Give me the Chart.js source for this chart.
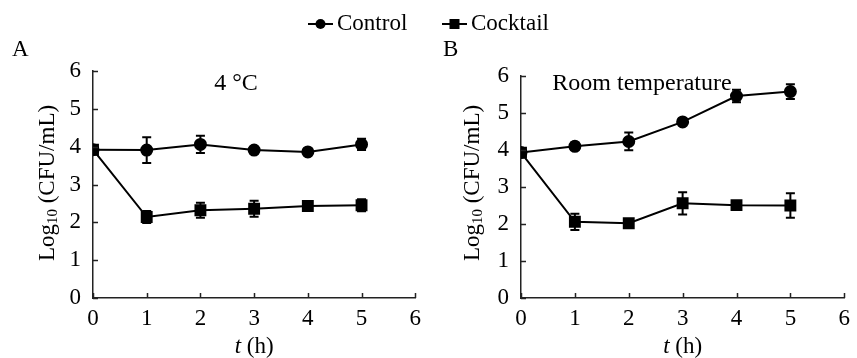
<!DOCTYPE html>
<html>
<head>
<meta charset="utf-8">
<script src="https://cdn.jsdelivr.net/npm/chart.js@4.4.1/dist/chart.umd.min.js"></script>
<style>
body { margin: 0; background: #fff; width: 857px; height: 358px; position: relative; overflow: hidden; }
.box { position: absolute; top: 0; height: 358px; }
</style>
</head>
<body>
<div class="box" style="left:0;width:428px"><canvas id="chartA" width="428" height="358"></canvas></div>
<div class="box" style="left:428px;width:429px"><canvas id="chartB" width="429" height="358"></canvas></div>

<script>
const hours = [0, 1, 2, 3, 4, 5];
const xTicks = [0, 1, 2, 3, 4, 5, 6];
const yTicks = [0, 1, 2, 3, 4, 5, 6];
const seriesNames = ['Control', 'Cocktail'];

// panel A, 4 °C
const coldControl = [3.92, 3.91, 4.06, 3.91, 3.86, 4.06];
const coldControlErr = [0, 0.34, 0.23, 0, 0, 0.15];
const coldCocktail = [3.92, 2.14, 2.32, 2.36, 2.43, 2.45];
const coldCocktailErr = [0, 0.16, 0.2, 0.21, 0.05, 0.16];

// panel B, room temperature
const warmControl = [3.93, 4.1, 4.23, 4.76, 5.46, 5.58];
const warmControlErr = [0, 0.1, 0.24, 0, 0.17, 0.2];
const warmCocktail = [3.93, 2.06, 2.02, 2.56, 2.51, 2.5];
const warmCocktailErr = [0, 0.22, 0.08, 0.3, 0.05, 0.33];

const FONT = '"Liberation Serif", serif';

const extras = {
  id: 'extras',
  afterDatasetsDraw(chart) {
    const ctx = chart.ctx, ys = chart.scales.y;
    ctx.save();
    ctx.strokeStyle = '#000';
    ctx.lineWidth = 2;
    chart.data.datasets.forEach((ds, i) => {
      const meta = chart.getDatasetMeta(i);
      meta.data.forEach((pt, j) => {
        const e = ds.errors[j];
        if (!e) return;
        const t = ys.getPixelForValue(ds.data[j].y + e);
        const b = ys.getPixelForValue(ds.data[j].y - e);
        ctx.beginPath();
        ctx.moveTo(pt.x, t); ctx.lineTo(pt.x, b);
        ctx.moveTo(pt.x - 4.5, t); ctx.lineTo(pt.x + 4.5, t);
        ctx.moveTo(pt.x - 4.5, b); ctx.lineTo(pt.x + 4.5, b);
        ctx.stroke();
      });
    });
    ctx.restore();
  },
  afterDraw(chart, args, opts) {
    const ctx = chart.ctx, xs = chart.scales.x, ys = chart.scales.y, a = chart.chartArea;
    ctx.save();
    // inward tick marks
    ctx.strokeStyle = '#222';
    ctx.lineWidth = 1.5;
    ctx.beginPath();
    yTicks.forEach(v => { const p = Math.round(ys.getPixelForValue(v)) + 0.5; ctx.moveTo(a.left, p); ctx.lineTo(a.left + 5, p); });
    xTicks.forEach(v => { const p = Math.round(xs.getPixelForValue(v)) + 0.5; ctx.moveTo(p, a.bottom); ctx.lineTo(p, a.bottom - 5); });
    ctx.stroke();

    // shared legend: one entry drawn on each canvas
    const ds = chart.data.datasets[opts.legendIndex];
    const lx = opts.legendX, ly = 24;
    ctx.strokeStyle = '#000';
    ctx.lineWidth = 2;
    ctx.beginPath();
    ctx.moveTo(lx, ly); ctx.lineTo(lx + 25, ly);
    ctx.stroke();
    ctx.fillStyle = '#000';
    if (ds.pointStyle === 'circle') {
      ctx.beginPath(); ctx.arc(lx + 12.5, ly, 5, 0, Math.PI * 2); ctx.fill();
    } else {
      ctx.fillRect(lx + 7.5, ly - 5, 10, 10);
    }
    ctx.font = '23px ' + FONT;
    ctx.textAlign = 'left';
    ctx.textBaseline = 'middle';
    ctx.fillText(ds.label, lx + 29, ly);

    // panel letter
    ctx.fillText(opts.letter, opts.letterX, 50);
    // annotation
    ctx.font = '24px ' + FONT;
    ctx.textAlign = 'center';
    ctx.fillText(opts.note, opts.noteX, 84);

    // x title: t (h)
    const cx = (a.left + a.right) / 2;
    ctx.font = 'italic 23px ' + FONT;
    const wt = ctx.measureText('t').width;
    ctx.font = '23px ' + FONT;
    const wr = ctx.measureText(' (h)').width;
    const x0 = cx - (wt + wr) / 2;
    ctx.textAlign = 'left';
    ctx.font = 'italic 23px ' + FONT;
    ctx.fillText('t', x0, 347);
    ctx.font = '23px ' + FONT;
    ctx.fillText(' (h)', x0 + wt, 347);

    // y title: Log10 (CFU/mL)
    ctx.translate(opts.yTitleX, 183);
    ctx.rotate(-Math.PI / 2);
    ctx.font = '23px ' + FONT;
    const w1 = ctx.measureText('Log').width;
    const w3 = ctx.measureText(' (CFU/mL)').width;
    ctx.font = '15px ' + FONT;
    const w2 = ctx.measureText('10').width;
    const s = -(w1 + w2 + w3) / 2;
    ctx.font = '23px ' + FONT;
    ctx.fillText('Log', s, 0);
    ctx.font = '15px ' + FONT;
    ctx.fillText('10', s + w1, 5);
    ctx.font = '23px ' + FONT;
    ctx.fillText(' (CFU/mL)', s + w1 + w2, 0);
    ctx.restore();
  }
};

function points(vals) {
  return hours.map((h, i) => ({ x: h, y: vals[i] }));
}

function makeChart(id, control, controlErr, cocktail, cocktailErr, cfg) {
  return new Chart(document.getElementById(id).getContext('2d'), {
    type: 'line',
    data: {
      datasets: [{
        label: seriesNames[0],
        data: points(control),
        errors: controlErr,
        borderColor: '#000',
        backgroundColor: '#000',
        borderWidth: 2,
        pointStyle: 'circle',
        pointRadius: 5.5,
        order: 1
      }, {
        label: seriesNames[1],
        data: points(cocktail),
        errors: cocktailErr,
        borderColor: '#000',
        backgroundColor: '#000',
        borderWidth: 2,
        pointStyle: 'rect',
        pointRadius: 7,
        order: 0
      }]
    },
    options: {
      responsive: false,
      animation: false,
      layout: { padding: { top: cfg.top, right: cfg.right, left: 0, bottom: 0 } },
      scales: {
        x: {
          type: 'linear',
          min: 0,
          max: 6,
          afterFit(s) { s.height = 60; },
          afterBuildTicks(s) { s.ticks = xTicks.map(v => ({ value: v })); },
          ticks: { color: '#000', font: { family: FONT, size: 23 }, padding: 7, maxRotation: 0 },
          grid: { display: false, drawTicks: false },
          border: { display: true, color: '#222', width: 1.5 }
        },
        y: {
          min: 0,
          max: 6,
          afterFit(s) { s.width = 93; },
          afterBuildTicks(s) { s.ticks = yTicks.map(v => ({ value: v })); },
          ticks: { color: '#000', font: { family: FONT, size: 23 }, padding: 12 },
          grid: { display: false, drawTicks: false },
          border: { display: true, color: '#222', width: 1.5 }
        }
      },
      plugins: {
        legend: { display: false },
        tooltip: { enabled: false },
        extras: cfg
      }
    },
    plugins: [extras]
  });
}

makeChart('chartA', coldControl, coldControlErr, coldCocktail, coldCocktailErr,
  { top: 71, right: 10, letter: 'A', letterX: 12, note: '4 °C', noteX: 236, yTitleX: 48,
    legendIndex: 0, legendX: 308 });
makeChart('chartB', warmControl, warmControlErr, warmCocktail, warmCocktailErr,
  { top: 76, right: 6, letter: 'B', letterX: 15, note: 'Room temperature', noteX: 214, yTitleX: 45,
    legendIndex: 1, legendX: 14 });
</script>
</body>
</html>
